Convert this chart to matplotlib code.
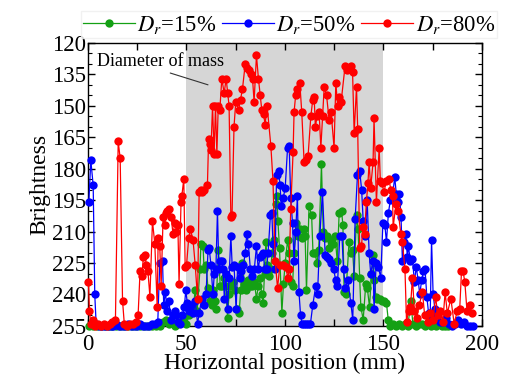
import matplotlib
matplotlib.use("Agg")
import matplotlib.pyplot as plt
from matplotlib.ticker import MultipleLocator

plt.rcParams["font.family"] = ["Liberation Serif", "DejaVu Serif"]
plt.rcParams["mathtext.fontset"] = "stix"

# ---- data -----------------------------------------------------------------
red_x = [0.3, 0.8, 1.5, 2.5, 3.5, 5, 6.5, 8, 9.5, 11, 12.5, 14, 15.4, 16.4, 17.6, 18.5, 20, 21.5,
         23, 24.5, 25.5, 26.5, 27.4, 28.2, 28.9, 29.7, 30.5, 31.5, 32.8, 34, 35.2, 35.7, 36.5, 37.2,
         38.2, 39.0, 39.8, 40.4, 41.4, 42.3, 43.2, 44.2, 45.0, 45.7, 46.3, 47.3, 47.7, 48.7, 49.4,
         50.1, 51.2, 52.1, 53.4, 54.5, 55.7, 56.5, 57.4, 58.2, 59.2, 60.7, 61.3, 62, 62.5, 63.3, 64.1,
         64.8, 65.5, 66.2, 67, 68, 69.2, 70.2, 71, 71.7, 72.6, 73.2, 74.2, 75.1, 76.5, 77.5, 78.5,
         79.9, 80.8, 81.9, 82.8, 83.6, 84.4, 85.6, 86.6, 87.5, 88.3, 89.2, 90, 91, 92.9, 94, 95.1,
         96.3, 97.5, 99, 100.5, 101.5, 102.2, 103, 104.2, 104.7, 105.5, 106.4, 107.6, 108.6, 109.8,
         110.8, 111.8, 113.2, 114.2, 114.9, 115.5, 116.4, 117.4, 118.3, 119.2, 120, 121.2, 122.5,
         123.5, 125, 125.9, 126.8, 127.7, 128.6, 130.6, 131.6, 132.5, 133.5, 134.4, 135.2, 136.4,
         137, 138, 138.9, 139.7, 140.5, 141.4, 142.2, 142.8, 143.6, 144.8, 145.3, 146.5, 147.9,
         148.5, 149.2, 150.4, 151.5, 152.9, 153.8, 154.7, 155, 156.4, 157.5, 158.9, 159.7, 161,
         161.8, 162.8, 163.8, 164.8, 165.8, 167, 168.2, 169.9, 171, 172.5, 173.8, 175.2, 176.6,
         177.6, 179, 180.2, 181.4, 182.5, 184.3, 186, 187.5, 188.8, 189.7, 190.5, 191.4, 192.5,
         194, 195]
red_y = [234, 248, 254, 252, 255, 254, 255, 254, 255, 254, 253, 252, 167, 175, 243, 254, 255, 254,
         254, 253, 250, 229, 231, 222, 221, 226, 229, 241, 205, 216, 246, 213, 217, 236,
         203, 207, 201, 200, 199, 203, 211, 206, 210, 207, 235, 196, 193, 185, 227,
         226, 213, 209, 214, 226, 242, 191, 190, 191, 190, 188, 166, 168, 171, 150, 173,
         150, 173, 150, 152, 137, 144, 137, 144, 150, 203, 202, 160, 148, 152, 147, 142,
         130, 132, 133, 135, 137, 148, 126, 137, 145, 152, 154, 159, 150, 169, 186, 224,
         237, 226, 226, 227, 232, 228, 199, 172, 153, 145, 142, 139, 153, 177,
         176, 174, 155, 147, 146, 160, 155, 153, 170, 155, 141, 145, 157,
         153, 170, 139, 150, 146, 148, 131, 133, 132, 131, 134, 163, 141,
         161, 218, 217, 208, 211, 196, 187, 177, 189, 177, 156, 196, 170,
         186, 187, 191, 186, 185, 190, 193, 208, 197, 200, 211, 215, 228,
         253, 248, 246, 232, 248, 251, 245, 239, 250, 253, 249, 252, 241,
         250, 248, 253, 239, 249, 242, 254, 248, 247, 229, 229, 234, 248,
         245, 249]

blue_x = [0.5, 1.5, 2.7, 3.5, 4.2, 5.5, 7, 8.5, 10, 11.5, 13, 14.5, 16, 17.5, 19, 20.5, 22, 23.5,
          25, 26.5, 28, 29.5, 31, 32.5, 34, 35.5, 36.5, 37.9, 38.5, 39.4, 40.3, 41.2, 42, 43, 44,
          45, 46, 47, 48, 49, 49.7, 50.5, 51.5, 52.5, 53.5, 54.5, 55.7, 56.5, 57.8, 59, 60, 61,
          61.6, 62.5, 63.5, 64.2, 65, 65.8, 66.5, 67.3, 67.9, 68.6, 69.3, 70, 70.9, 71.7, 72.6,
          73.3, 74.2, 75.3, 76, 77, 78, 79, 79.9, 80.7, 81.5, 82.5, 83.5, 84.5, 85.6, 86.5, 87.4,
          88.2, 89, 89.8, 90.7, 91.5, 92.7, 93.4, 94, 95, 95.8, 96.8, 97.6, 98.2, 99.2, 100.2,
          101.4, 102.2, 103, 103.9, 104.7, 105.5, 106.4, 107.2, 108, 108.8, 109.8, 111, 112, 113,
          114.2, 115.7, 116.6, 117.8, 119.1, 120.5, 121.5, 122.5, 123.5, 124.8, 125.8, 126.7,
          127.9, 129, 129.8, 130.8, 132, 133.5, 134.5, 135.7, 136.9, 138, 139, 139.8, 140.8,
          141.8, 142.8, 143.6, 144.8, 145.3, 146.4, 147.5, 148.7, 149.8, 150.8, 151.6, 152.6,
          153.6, 154.7, 155.8, 156.6, 157.5, 158.2, 159, 159.7, 160.6, 161.4, 162.2, 162.7, 163.8,
          164.8, 165.8, 166.7, 167.7, 168.5, 169.5, 170.4, 171.2, 172.1, 173, 173.8, 174.5, 175.3,
          176.2, 177.5, 179, 180.5, 182, 183.5, 185, 186.5, 188, 189.5, 191, 192.5, 194, 195.5]
blue_y = [196, 176, 188, 240, 254, 255, 255, 255, 255, 255, 255, 254, 255, 255, 255, 254, 255, 255,
          255, 254, 255, 255, 255, 254, 254, 253, 225, 224, 245, 239, 248, 243, 252, 250, 248,
          250, 253, 254, 250, 246, 238, 244, 248, 245, 249, 243, 254, 249, 242, 245, 240, 219,
          218, 226, 240, 230, 228, 200, 228, 224, 224, 228, 242, 230, 247, 232, 212,
          227, 226, 247, 227, 232, 229, 226, 220, 211, 216, 228, 231, 228, 217, 228, 222,
          221, 220, 228, 228, 220, 202, 201, 216, 228, 183, 181, 188, 198, 194, 189,
          170, 169, 194, 206, 224, 210, 193, 239, 250, 254, 254, 254, 254, 254,
          245, 236, 240, 212, 191, 221, 222, 223, 225, 228, 233, 236,
          212, 212, 228, 237, 233, 244, 252, 204, 183, 181, 190, 205, 212,
          195, 220, 230, 224, 247, 225, 227, 232, 206, 207, 215, 201,
          195, 193, 184, 192, 196, 192, 203, 224, 215, 211, 222, 217, 224,
          223, 234, 227, 233, 240, 233, 229, 228, 241, 249, 251, 214, 240,
          247, 250, 253, 253, 251, 254, 255, 254, 252, 254, 253, 255, 255, 255]

green_x = [0.5, 2.5, 4.5, 6.5, 8.5, 10.5, 12.5, 14.5, 16.5, 18.5, 20.5, 22.5, 24.5, 26.5, 28.5,
           30.5, 32.5, 34.5, 36.5, 38.2, 39.5, 41, 42.5, 44, 45.5, 47, 48.5, 50, 51.5, 52.5, 53.5,
           54.5, 55.5, 56.9, 57.4, 58.5, 59, 60, 61, 62, 63, 63.6, 64.3, 65, 66.3, 67.2, 68, 69,
           70, 70.9, 71.7, 72.7, 73.7, 74.7, 75.5, 76.8, 77.6, 78.5, 79.5, 80.5, 81.5, 82.5, 83.5,
           84.5, 85.6, 86.5, 87.5, 88.2, 89, 89.7, 90.4, 91.2, 92, 92.8, 93.6, 94.5, 95.4, 96.0,
           96.5, 97.3, 98.5, 99.3, 100.2, 101.4, 102.2, 103, 103.9, 104.7, 105.6, 106.5, 107.5,
           108.5, 109.5, 110.3, 111, 112.3, 113.6, 114.3, 115.3, 116.3, 117.2, 118.6, 119.5, 120.5,
           121.5, 122.5, 123.5, 124.5, 125.5, 126.6, 127.6, 128.8, 129.5, 130.1, 131, 132.6, 133.6,
           134.4, 135.2, 136.4, 137.2, 138, 138.6, 139.8, 141.1, 141.9, 143, 144, 144.8, 145.5,
           146.2, 147, 148.2, 149.3, 150.5, 151.6, 152.5, 153.5, 155, 156.5, 158, 159.5, 161,
           162.5, 164, 165, 166.5, 168, 169.5, 171, 172.5, 174, 175.5, 177, 178.5, 180, 181.5, 183]
green_y = [255, 255, 255, 255, 255, 255, 255, 255, 255, 255, 255, 255, 255, 255, 255,
           255, 255, 255, 255, 253, 252, 254, 253, 255, 254, 253, 252, 254, 250, 247, 246,
           238, 248, 228, 216, 217, 228, 226, 237, 243, 245, 238, 243, 247, 219, 236, 236, 232,
           236, 251, 240, 236, 234, 238, 247, 249, 238, 225, 235, 238, 233, 236, 236,
           234, 242, 236, 232, 240, 244, 230, 215, 226, 231, 228, 220, 214, 197, 193,
           205, 218, 249, 235, 225, 214, 220, 234, 236, 220, 206, 212, 209,
           213, 209, 212, 238, 198, 202, 220, 220, 225, 219, 178, 210, 213,
           212, 218, 214, 216, 212, 224, 201, 200, 207, 239, 240, 215, 220,
           219, 231, 202, 209, 232, 246, 252, 235, 237, 246, 230, 221, 233,
           241, 242, 242, 243, 243, 244, 252, 255, 254, 255, 254, 255, 254,
           255, 243, 254, 255, 254, 254, 255, 254, 255, 254, 255, 254, 255, 255, 255]

series = [
    (green_x, green_y, "#14a014", r"$D_r$=15%"),
    (blue_x, blue_y, "#0000ff", r"$D_r$=50%"),
    (red_x, red_y, "#ff0000", r"$D_r$=80%"),
]

fig = plt.figure(figsize=(5.05, 3.83), dpi=100)
ax = fig.add_axes([0.174, 0.149, 0.780, 0.739])

ax.axvspan(50, 150, color="#d6d6d6", zorder=0, lw=0)

for xs, ys, col, lab in series:
    ax.plot(xs, ys, color=col, lw=0.9, marker="o", markersize=6,
            markeredgewidth=0, label=lab, clip_on=False, zorder=3)

ax.set_xlim(0, 200)
ax.set_ylim(255, 120)
ax.xaxis.set_major_locator(MultipleLocator(50))
ax.xaxis.set_minor_locator(MultipleLocator(25))
ax.yaxis.set_major_locator(MultipleLocator(15))
ax.yaxis.set_minor_locator(MultipleLocator(5))
ax.tick_params(which="both", direction="in", top=True, right=True, labelsize=16.5)
ax.tick_params(axis="y", pad=1)
ax.tick_params(axis="x", pad=5.5)
ax.tick_params(which="major", length=5, width=1)
ax.tick_params(which="minor", length=3, width=0.8)
ax.tick_params(axis="x", which="minor", length=5, width=1)
for sp in ax.spines.values():
    sp.set_linewidth(1.0)

ax.set_xlabel("Horizontal position (mm)", fontsize=17, labelpad=-1)
ax.set_ylabel("Brightness", fontsize=17, labelpad=1)

ax.annotate("Diameter of mass", xy=(61, 140), xytext=(4.4, 128.8), fontsize=13,
            va="center", ha="left",
            arrowprops=dict(arrowstyle="-", color="#333333", lw=0.8,
                            shrinkA=1, shrinkB=0, relpos=(0.5, 0.0)))

leg = fig.legend(loc="upper center", bbox_to_anchor=(0.572, 1.0), ncol=3, fontsize=16.3,
                 frameon=True, fancybox=False, edgecolor="#eeeeee", handlelength=2.3,
                 handletextpad=0.1, columnspacing=0.25, borderpad=0.1, markerscale=1.0)

fig.savefig("out.png", dpi=100)
